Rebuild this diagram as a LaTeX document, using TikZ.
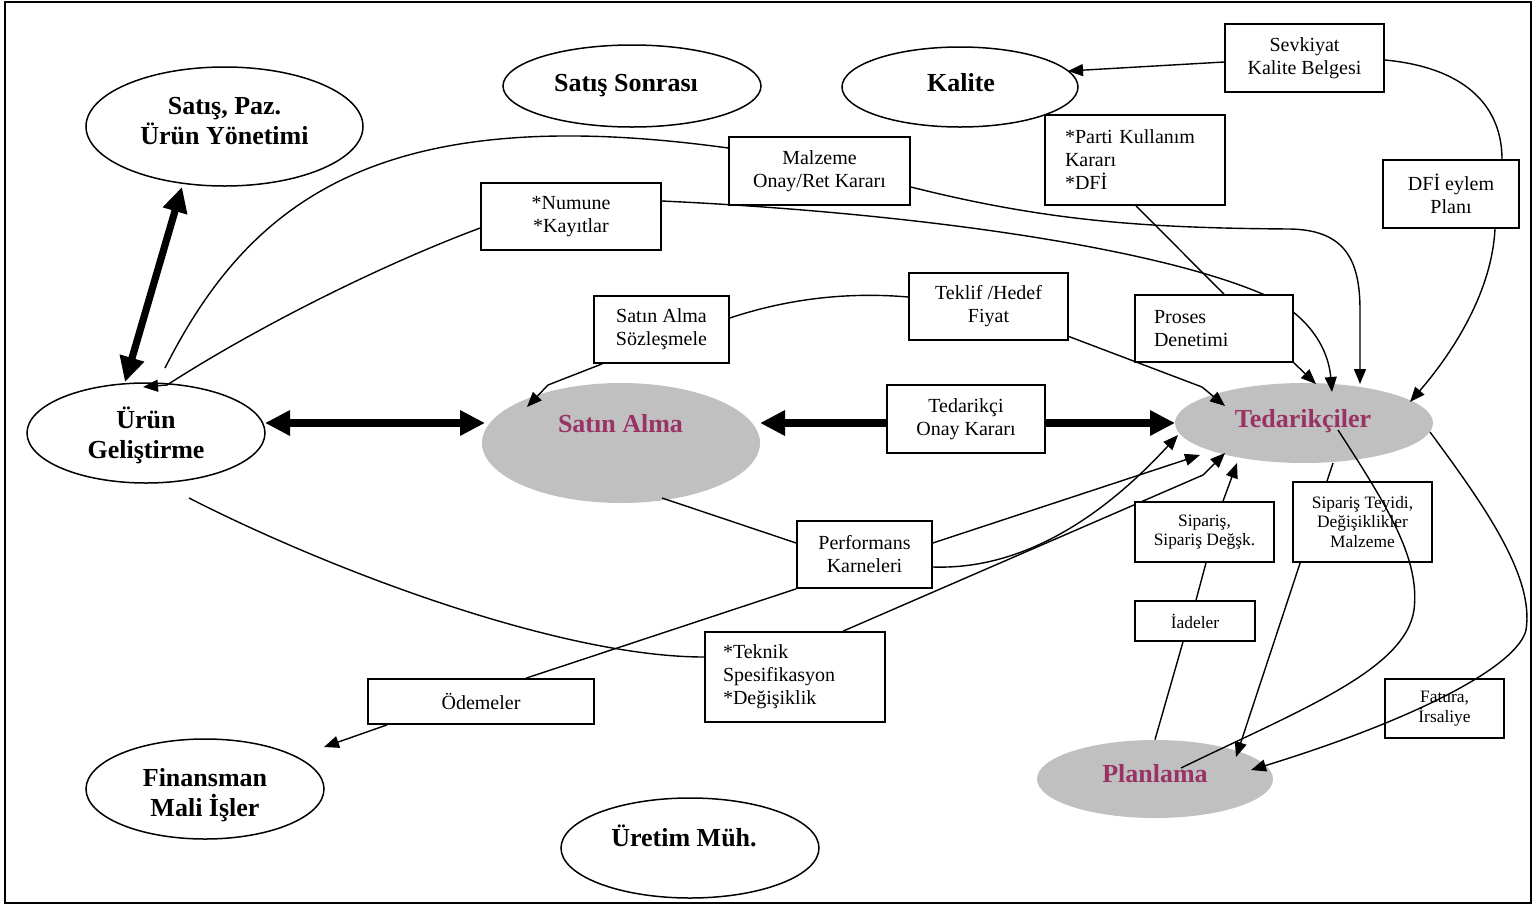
\documentclass[tikz,border=0pt]{standalone}
\usepackage{fontspec}
\setmainfont{Liberation Serif}
\usetikzlibrary{arrows.meta,shapes.geometric,calc}
\pgfdeclarelayer{front}
\pgfsetlayers{main,front}
\definecolor{unitgray}{RGB}{192,192,192}
\definecolor{plum}{RGB}{153,51,102}
\newcommand\lblfont{\fontsize{10pt}{11.5pt}\selectfont}
\newcommand\lblsmall{\fontsize{8.7pt}{9.7pt}\selectfont}
\newcommand\deptfont{\fontsize{13pt}{15pt}\selectfont\bfseries}

\begin{document}
\begin{tikzpicture}[x=0.5pt, y=-0.5pt,
  box/.style={draw, fill=white, line width=0.85pt, inner sep=0pt, align=center, font=\lblfont},
  lbox/.style={box, align=left},
  oval/.style={ellipse, draw, fill=white, line width=0.75pt, inner sep=0pt},
  grayunit/.style={ellipse, fill=unitgray, inner sep=0pt},
  dept/.style={font=\deptfont, align=center, inner sep=0pt},
  link/.style={line width=0.7pt, line join=round},
  toarrow/.style={link, -{Triangle[length=7.5pt,width=6pt]}},
  bigline/.style={line width=3.6pt},
  bothtips/.style={bigline, {Triangle[length=12.5pt,width=12pt]}-{Triangle[length=12.5pt,width=12pt]}},
  onetip/.style={bigline, -{Triangle[length=12.5pt,width=12pt]}},
]
\useasboundingbox (0,0) rectangle (1533,906);
\draw[line width=1pt] (5,2) rectangle (1531,903);

% departments
\node[oval, minimum width=138.5pt, minimum height=59.5pt] (satis) at (224.5,126.5) {};
\node[dept] (satis-t) at (224.5,121.5) {Satış, Paz.\\Ürün Yönetimi};
\node[oval, minimum width=129pt, minimum height=41pt] (sonra) at (632,86) {};
\node[dept, anchor=base] (sonra-t) at (626,91) {Satış Sonrası};
\node[oval, minimum width=118pt, minimum height=40pt] (kalite) at (960,87) {};
\node[dept, anchor=base] (kalite-t) at (961,91) {Kalite};
\node[oval, minimum width=119pt, minimum height=50pt] (urun) at (146,433) {};
\node[dept] (urun-t) at (146,435) {Ürün\\Geliştirme};
\node[oval, minimum width=119pt, minimum height=50pt] (fin) at (205,789) {};
\node[dept] (fin-t) at (205,795) {Finansman\\Mali İşler};
\node[oval, minimum width=129pt, minimum height=50pt] (uretim) at (690,848) {};
\node[dept, anchor=base] (uretim-t) at (684,846) {Üretim Müh.};
\node[grayunit, minimum width=139pt, minimum height=60pt] (sa) at (621,443) {};
\node[dept, anchor=base, text=plum] (sa-t) at (620.5,432) {Satın Alma};
\node[grayunit, minimum width=129pt, minimum height=40pt] (ted) at (1304,423) {};
\node[dept, anchor=base, text=plum] (ted-t) at (1303,427) {Tedarikçiler};
\node[grayunit, minimum width=118pt, minimum height=39pt] (plan) at (1155,779) {};
\node[dept, anchor=base, text=plum] (plan-t) at (1155,782) {Planlama};

% boxes that lines cross over
\node[box, font=\lblsmall, minimum width=69.5pt, minimum height=40pt] (tey) at (1362.5,522) {Sipariş Teyidi,\\Değişiklikler\\Malzeme};
\node[box, font=\lblsmall, minimum width=59.5pt, minimum height=29.5pt] (fat) at (1444.5,708.5) {Fatura,\\İrsaliye};

% boxes lying over the lines
\begin{pgfonlayer}{front}
\node[box, minimum width=79.5pt, minimum height=34pt] (sev) at (1304.5,58) {Sevkiyat\\Kalite Belgesi};
\node[lbox, minimum width=90pt, minimum height=45pt, text width=70pt, inner xsep=10pt] (parti) at (1135,160) {*Parti Kullanım\\{}Kararı\\{}*DFİ};
\node[box, minimum width=68pt, minimum height=34pt] (dfi) at (1451,194) {DFİ eylem\\Planı};
\node[box, minimum width=90.5pt, minimum height=34pt] (malz) at (819.5,171) {Malzeme\\Onay/Ret Kararı};
\node[box, minimum width=90pt, minimum height=33.5pt] (num) at (571,216.5) {*Numune\\{}*Kayıtlar};
\node[box, minimum width=67.5pt, minimum height=33.5pt] (soz) at (661.5,329.5) {Satın Alma\\Sözleşmele};
\node[box, minimum width=79.5pt, minimum height=33.5pt] (tek) at (988.5,306.5) {Teklif /Hedef\\Fiyat};
\node[lbox, minimum width=79pt, minimum height=33.5pt, text width=60pt, inner xsep=9.5pt] (proses) at (1214,328.5) {Proses\\Denetimi};
\node[box, minimum width=79pt, minimum height=34pt] (toa) at (966,419) {Tedarikçi\\Onay Kararı};
\node[box, minimum width=67.5pt, minimum height=33.5pt] (perf) at (864.5,554.5) {Performans\\Karneleri};
\node[box, font=\lblsmall, minimum width=69.5pt, minimum height=30pt] (sip) at (1204.5,532) {Sipariş,\\Sipariş Değşk.};
\node[box, font=\lblsmall, minimum width=60pt, minimum height=20pt] (iade) at (1195,621) {İadeler};
\node[box, minimum width=113pt, minimum height=22.5pt] (ode) at (481,701.5) {Ödemeler};
\node[lbox, minimum width=90pt, minimum height=45pt, text width=72pt, inner xsep=9pt] (tekn) at (795,677) {*Teknik\\{}Spesifikasyon\\{}*Değişiklik};
\end{pgfonlayer}

% heavy two-way links
\draw[bothtips] ($(satis.center)+(-42.5,60.5)$) -- ($(urun.center)+(-21,-51)$);
\draw[bothtips] ($(urun.center)+(119,-10)$) -- ($(sa.center)+(-136,-20)$);
\draw[onetip] ($(toa.west)+(0,4)$) -- ($(sa.center)+(139,-20)$);
\draw[onetip] ($(toa.east)+(0,4)$) -- ($(ted.center)+(-129,0)$);

% material approval
\draw[link] ($(malz.west)+(0,-23)$) .. controls (380,100) and (250,200) .. ($(urun.center)+(19,-65)$);
\draw[toarrow] ($(malz.east)+(0,16)$) .. controls (1050,222) and (1150,228) .. (1290,229)
  .. controls (1345,230) and (1360,260) .. (1360,310) -- ($(ted.center)+(56,-39)$);

% samples and records
\draw[toarrow] ($(num.west)+(0,11.5)$) .. controls (381,265) and (257,327) .. (167,385) -- ($(urun.center)+(-3,-46)$);
\draw[toarrow] ($(num.east)+(0,-15.5)$) .. controls (900,212) and (1150,245) .. (1265,295)
  .. controls (1305,313) and (1328,345) .. ($(ted.center)+(28,-31)$);

% lot decision and process audit
\draw[link] ($(parti.south)+(1,0)$) -- ($(proses.north)+(10,0)$);
\draw[toarrow] (proses.south east) -- ($(ted.center)+(12,-39)$);

% shipment quality certificate
\draw[toarrow] ($(sev.west)+(0,4)$) -- ($(kalite.center)+(108,-16)$);
\draw[link] ($(sev.east)+(0,2)$) .. controls (1470,68) and (1502,110) .. ($(dfi.north)+(51,0)$);
\draw[toarrow] ($(dfi.south)+(44,0)$) .. controls (1492,290) and (1455,350) .. ($(ted.center)+(106,-21)$);

% offers and contracts
\draw[link] ($(tek.west)+(0,-9.5)$) .. controls (850,292) and (790,298) .. ($(soz.east)+(0,-11.5)$);
\draw[toarrow] ($(soz.south west)+(9,0)$) -- (548,385) -- ($(sa.center)+(-94,-36)$);
\draw[toarrow] ($(tek.east)+(0,30)$) -- (1202,387) -- ($(ted.center)+(-79,-17)$);

% performance scorecards and payments
\draw[link] ($(sa.center)+(41,55)$) -- ($(perf.west)+(0,-11.5)$);
\draw[toarrow] ($(perf.east)+(0,-11.5)$) -- ($(ted.center)+(-104,32)$);
\draw[toarrow] ($(perf.east)+(0,12.5)$) .. controls (1020,570) and (1100,520) .. ($(ted.center)+(-126,12)$);
\draw[link] (perf.south west) -- ($(ode.north)+(45,0)$);
\draw[toarrow] ($(ode.south west)+(20,0)$) -- ($(fin.center)+(119,-42)$);

% technical specification
\draw[link] ($(urun.center)+(43,65)$) .. controls (330,570) and (560,657) .. ($(tekn.west)+(0,-20)$);
\draw[toarrow] ($(tekn.north)+(48,0)$) -- (1203,475) -- ($(ted.center)+(-79,30)$);

% orders and returns
\draw[toarrow] ($(sip.north)+(18.5,0)$) -- ($(ted.center)+(-67,40)$);
\draw[link] ($(sip.south)+(1.5,0)$) -- ($(iade.north)+(1,0)$);
\draw[link] ($(iade.south)+(-12,0)$) -- (plan.north);

% order confirmation
\draw[link] ($(ted.center)+(29,40)$) -- ($(tey.north)+(-35.5,0)$);
\draw[toarrow] ($(tey.south west)+(8,0)$) -- ($(plan.center)+(81,-22)$);
\draw[link] ($(ted.center)+(34,7)$) .. controls (1390,510) and (1420,560) .. (1414,610)
  .. controls (1405,670) and (1300,710) .. ($(plan.center)+(26,-11)$);

% invoice and delivery note
\draw[toarrow] ($(ted.center)+(126,9)$) .. controls (1480,500) and (1535,575) .. (1526,630)
  .. controls (1518,665) and (1420,718) .. ($(plan.center)+(96,-9)$);
\end{tikzpicture}
\end{document}
